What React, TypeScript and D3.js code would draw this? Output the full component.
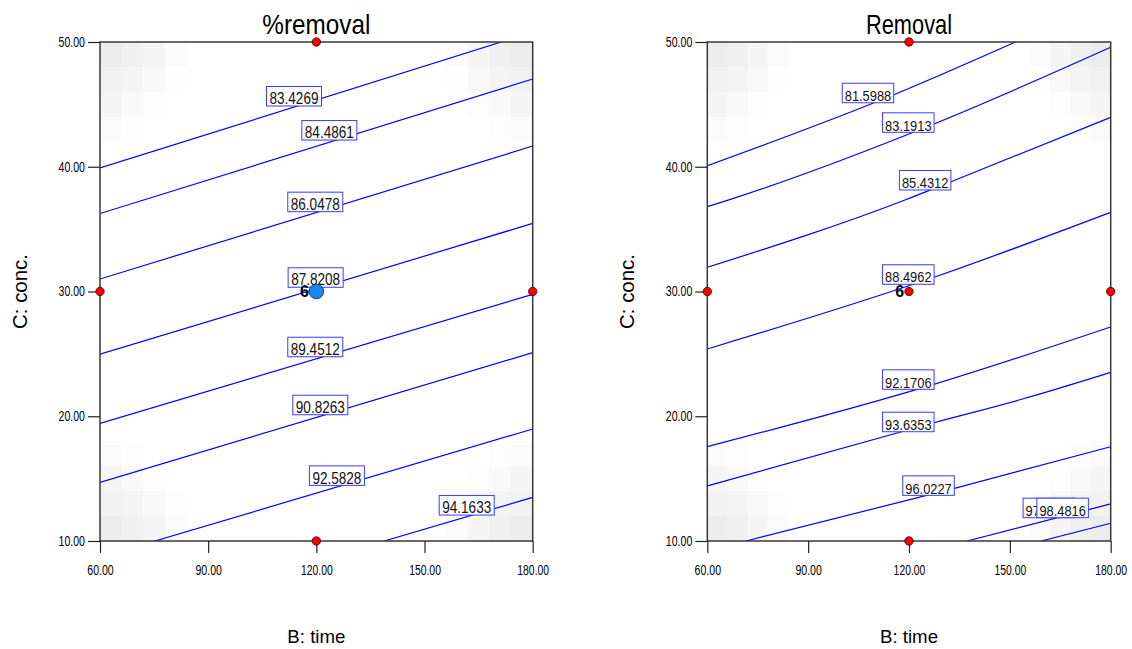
import { useEffect, useRef } from 'react'
import * as d3 from 'd3'

const timeTicks = [60, 90, 120, 150, 180]
const concTicks = [10, 20, 30, 40, 50]
const factorPoints: [number, number][] = [
	[60, 30],
	[180, 30],
	[120, 50],
	[120, 10],
]
const centerPoint: [number, number] = [120, 30]
const centerRuns = '6'

// %removal: contour levels and the (time, conc) points each one passes through
const pctLevels = ['83.4269', '84.4861', '86.0478', '87.8208', '89.4512', '90.8263', '92.5828', '94.1633']
const pctLines: [number, number][][] = [
	[[60, 39.9], [171.3, 50]],
	[[60, 36.25], [180, 47.03]],
	[[60, 31.0], [180, 41.66]],
	[[60, 24.97], [180, 35.46]],
	[[60, 19.43], [180, 29.77]],
	[[60, 14.7], [180, 25.1]],
	[[75.2, 10], [180, 18.98]],
	[[138.8, 10], [180, 13.5]],
]
// where each contour label box sits (bottom centre, in time / conc units)
const pctLabelAt: [number, number][] = [
	[113.8, 44.87],
	[123.6, 42.14],
	[119.7, 36.4],
	[119.8, 30.34],
	[119.7, 24.77],
	[121.1, 20.12],
	[125.7, 14.46],
	[161.7, 12.08],
]

// Removal: contour levels, curved lines
const remLevels = ['81.5988', '83.1913', '85.4312', '88.4962', '92.1706', '93.6353', '96.0227', '97.0470', '98.4816']
const remLines: [number, number][][] = [
	[[60, 40.08], [115.3, 45.75], [151.7, 50]],
	[[60, 36.8], [66.2, 37.33], [127.4, 43.43], [180, 49.58]],
	[[60, 31.94], [118.8, 37.33], [132.5, 38.8], [180, 43.96]],
	[[60, 25.39], [127.4, 31.14], [180, 36.35]],
	[[60, 17.56], [127.4, 22.56], [180, 27.16]],
	[[60, 14.41], [127.4, 19.48], [154.0, 21.4], [180, 23.52]],
	[[71.5, 10], [133.5, 14.22], [180, 17.56]],
	[[137.2, 10], [180, 12.97]],
	[[159.3, 10], [180, 11.42]],
]
const remLabelAt: [number, number][] = [
	[107.8, 45.13],
	[119.8, 42.76],
	[124.8, 38.14],
	[119.8, 30.58],
	[119.8, 22.16],
	[119.8, 18.76],
	[125.8, 13.66],
	[161.6, 11.87],
	[165.7, 11.87],
]

// grey of the shaded cells, counted from the nearest corner inwards
const cornerShade = [
	[0xec, 0xf0, 0xf5, 0xfb],
	[0xf1, 0xf4, 0xf8, 0xfe],
	[0xf5, 0xf9, 0xfd, 0xff],
	[0xfa, 0xfd, 0xff, 0xff],
]

const FONT = 'Liberation Sans, Arial, sans-serif'
const fmt = d3.format('.2f')

const panels = [
	{
		id: 'pct',
		title: '%removal',
		titleLen: 108,
		left: 100,
		right: 532.7,
		levels: pctLevels,
		lines: pctLines,
		labelAt: pctLabelAt,
		boxW: 55,
		labelFont: 16,
		labelLen: 49,
		bigCenter: true,
	},
	{
		id: 'rem',
		title: 'Removal',
		titleLen: 86,
		left: 707.3,
		right: 1110.7,
		levels: remLevels,
		lines: remLines,
		labelAt: remLabelAt,
		boxW: 51.5,
		labelFont: 15,
		labelLen: 46.5,
		bigCenter: false,
	},
]

const top = 42
const bottom = 541

const drawPanel = (svg: any, p: any) => {
	const x = d3.scaleLinear().domain([60, 180]).range([p.left, p.right])
	const y = d3.scaleLinear().domain([10, 50]).range([bottom, top])
	const g = svg.append('g')

	// shaded background cells
	const n = 20
	const cx = d3.scaleBand<number>().domain(d3.range(n)).range([p.left, p.right])
	const cy = d3.scaleBand<number>().domain(d3.range(n)).range([top, bottom])
	const cells: any[] = []
	for (let i = 0; i < n; i++) {
		for (let j = 0; j < n; j++) {
			const ci = Math.min(i, n - 1 - i)
			const cj = Math.min(j, n - 1 - j)
			if (ci < 4 && cj < 4 && cornerShade[cj][ci] < 0xff) {
				cells.push({ i, j, v: cornerShade[cj][ci] })
			}
		}
	}
	g.append('g')
		.selectAll('rect')
		.data(cells)
		.enter()
		.append('rect')
		.attr('x', (d: any) => cx(d.i))
		.attr('y', (d: any) => cy(d.j))
		.attr('width', cx.bandwidth() + 0.5)
		.attr('height', cy.bandwidth() + 0.5)
		.attr('fill', (d: any) => d3.rgb(d.v, d.v, d.v).toString())

	// contour lines
	svg.append('clipPath')
		.attr('id', 'clip-' + p.id)
		.append('rect')
		.attr('x', p.left)
		.attr('y', top)
		.attr('width', p.right - p.left)
		.attr('height', bottom - top)

	const line = d3
		.line<[number, number]>()
		.x((d) => x(d[0]))
		.y((d) => y(d[1]))
		.curve(d3.curveMonotoneX)

	g.append('g')
		.attr('clip-path', 'url(#clip-' + p.id + ')')
		.selectAll('path')
		.data(p.lines)
		.enter()
		.append('path')
		.attr('d', (d: any) => line(d))
		.attr('fill', 'none')
		.attr('stroke', '#0000ff')
		.attr('stroke-width', 1.2)

	// contour labels
	const boxH = 19.5
	const lab = g
		.append('g')
		.selectAll('g')
		.data(p.levels.map((v: string, i: number) => ({ v, at: p.labelAt[i] })))
		.enter()
		.append('g')
		.attr('transform', (d: any) => `translate(${x(d.at[0])},${y(d.at[1])})`)
	lab.append('rect')
		.attr('x', -p.boxW / 2)
		.attr('y', -boxH)
		.attr('width', p.boxW)
		.attr('height', boxH)
		.attr('fill', '#fff')
		.attr('stroke', '#3a3aff')
		.attr('stroke-width', 1)
	lab.append('text')
		.attr('x', 0)
		.attr('y', -1.8)
		.attr('text-anchor', 'middle')
		.attr('font-family', FONT)
		.attr('font-size', p.labelFont)
		.attr('textLength', p.labelLen)
		.attr('lengthAdjust', 'spacingAndGlyphs')
		.attr('fill', '#111')
		.text((d: any) => d.v)

	// frame
	g.append('rect')
		.attr('x', p.left)
		.attr('y', top)
		.attr('width', p.right - p.left)
		.attr('height', bottom - top)
		.attr('fill', 'none')
		.attr('stroke', '#383838')
		.attr('stroke-width', 1.5)

	// axes
	const styleTicks = (sel: any) => {
		sel.select('.domain').remove()
		sel.selectAll('line').attr('stroke', '#222').attr('stroke-width', 1.2)
		sel.selectAll('text')
			.attr('font-family', FONT)
			.attr('font-size', 14)
			.attr('fill', '#000')
			.attr('textLength', (d: number) => fmt(d).length * 5.3)
			.attr('lengthAdjust', 'spacingAndGlyphs')
	}
	g.append('g')
		.attr('transform', `translate(${p.left},0)`)
		.call(d3.axisLeft(y).tickValues(concTicks).tickSize(12).tickPadding(3).tickFormat((d: any) => fmt(d)))
		.call(styleTicks)
	g.append('g')
		.attr('transform', `translate(0,${bottom})`)
		.call(d3.axisBottom(x).tickValues(timeTicks).tickSize(12).tickPadding(12).tickFormat((d: any) => fmt(d)))
		.call(styleTicks)

	// titles
	const mid = (p.left + p.right) / 2
	g.append('text')
		.attr('x', mid)
		.attr('y', 34)
		.attr('text-anchor', 'middle')
		.attr('font-family', FONT)
		.attr('font-size', 28)
		.attr('textLength', p.titleLen)
		.attr('lengthAdjust', 'spacingAndGlyphs')
		.text(p.title)
	g.append('text')
		.attr('x', mid)
		.attr('y', 643)
		.attr('text-anchor', 'middle')
		.attr('font-family', FONT)
		.attr('font-size', 19)
		.attr('textLength', 58)
		.attr('lengthAdjust', 'spacingAndGlyphs')
		.text('B: time')
	g.append('text')
		.attr('transform', `translate(${p.left - 73},${(top + bottom) / 2}) rotate(-90)`)
		.attr('text-anchor', 'middle')
		.attr('font-family', FONT)
		.attr('font-size', 20)
		.attr('textLength', 75)
		.attr('lengthAdjust', 'spacingAndGlyphs')
		.text('C: conc.')

	// design points
	g.append('g')
		.selectAll('circle')
		.data(factorPoints)
		.enter()
		.append('circle')
		.attr('cx', (d: any) => x(d[0]))
		.attr('cy', (d: any) => y(d[1]))
		.attr('r', 4.2)
		.attr('fill', '#ff0000')
		.attr('stroke', '#300')
		.attr('stroke-width', 0.8)

	g.append('circle')
		.attr('cx', x(centerPoint[0]))
		.attr('cy', y(centerPoint[1]))
		.attr('r', p.bigCenter ? 7.3 : 4.2)
		.attr('fill', p.bigCenter ? '#1a86f0' : '#ff0000')
		.attr('stroke', p.bigCenter ? '#0a2a55' : '#300')
		.attr('stroke-width', 0.8)

	g.append('text')
		.attr('x', x(centerPoint[0]) - (p.bigCenter ? 7.5 : 4.8))
		.attr('y', y(centerPoint[1]) + 5.8)
		.attr('text-anchor', 'end')
		.attr('font-family', FONT)
		.attr('font-weight', 'bold')
		.attr('font-size', 16)
		.text(centerRuns)
}

export default function App() {
	const ref = useRef<SVGSVGElement>(null)

	useEffect(() => {
		const svg = d3.select(ref.current)
		svg.selectAll('*').remove()
		panels.forEach((p) => drawPanel(svg, p))
	}, [])

	return (
		<svg
			ref={ref}
			width={1132}
			height={649}
			style={{ position: 'absolute', left: 0, top: 0, background: '#fff' }}
		/>
	)
}
